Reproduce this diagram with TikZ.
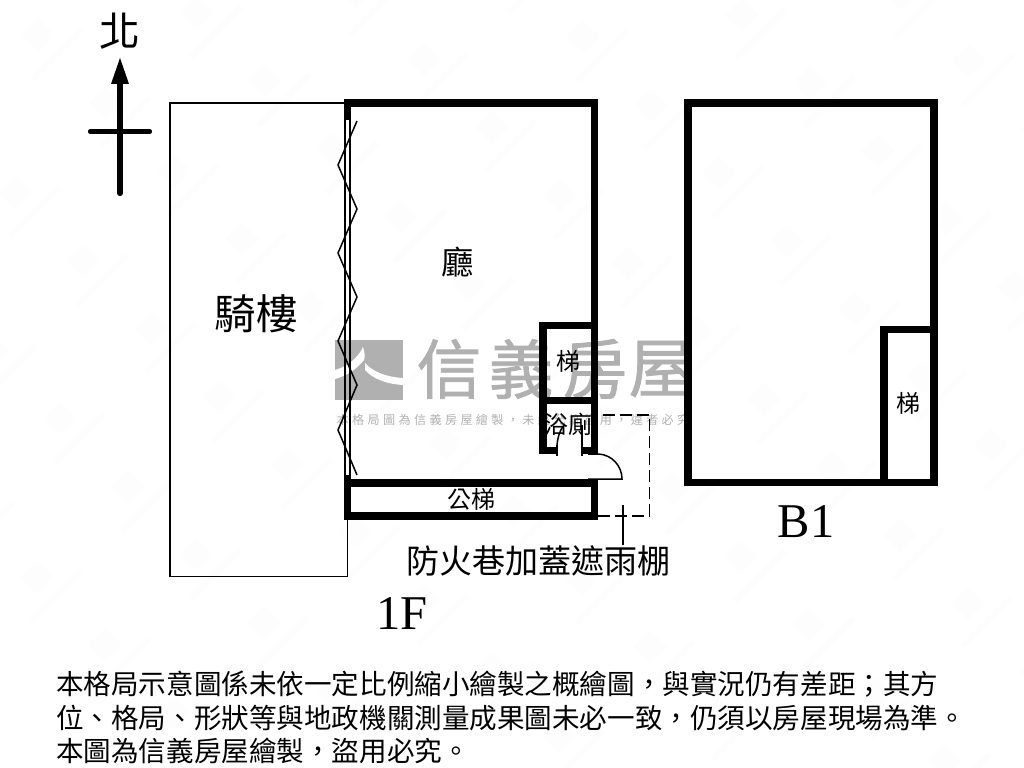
\documentclass[tikz,border=0pt]{standalone}
\usepackage{fontspec}
\usepackage{xcolor}
\setmainfont{Noto Sans CJK TC}
\newfontfamily\latinfont{Liberation Serif}
\newfontfamily\markfont[LetterSpace=28]{Noto Sans CJK TC}
\newfontfamily\bigmarkfont[FakeBold=1.2]{Noto Sans CJK TC}
\usetikzlibrary{arrows.meta, positioning}
\definecolor{markgray}{HTML}{B0B0B0}
\definecolor{tilefaint}{HTML}{FDFDFD}
\definecolor{wallblack}{HTML}{000000}

\begin{document}
\begin{tikzpicture}[
  x=0.025cm, y=-0.025cm,
  wall/.style={draw=wallblack, line width=7.5*0.025cm, line cap=butt, line join=miter},
  thin line/.style={draw=wallblack, line width=1.5*0.025cm},
  dash line/.style={draw=wallblack, line width=1.5*0.025cm, dash pattern=on 0.3cm off 0.125cm},
  north line/.style={draw=wallblack, line width=5.2*0.025cm, line cap=round},
  roomlabel/.style={inner sep=0pt, font=\fontsize{17}{17}\selectfont},
  biglabel/.style={inner sep=0pt, font=\fontsize{29.5}{30}\selectfont},
  floorlabel/.style={inner sep=0pt, font=\fontsize{34.5}{35}\selectfont\latinfont},
  noteline/.style={inner sep=0pt, anchor=west, font=\fontsize{19.6}{20}\selectfont}
]
  \useasboundingbox (0,0) rectangle (1024,768);

  % Faint tiles
  \foreach \i in {-3,...,11}
    \foreach \j in {-3,...,7} {
      \pgfmathsetmacro{\cx}{38+68*\i+159*\j}
      \pgfmathsetmacro{\cy}{35+68*\i-22*\j}
      \fill[tilefaint] (\cx-17,\cy) -- (\cx,\cy-17) -- (\cx+17,\cy) -- (\cx,\cy+17) -- cycle;
      \fill[tilefaint] (\cx-8,\cy+42) -- (\cx+42,\cy-8) -- (\cx+46,\cy-4) -- (\cx-4,\cy+46) -- cycle;
    }

  % Watermark
  \fill[markgray] (335,340) rectangle (403,400);
  \fill[white] (335,370) .. controls (348,366) and (358,358) .. (363,347)
    .. controls (365,353) and (365,357) .. (364,360)
    .. controls (356,370) and (346,376) .. (335,379) -- cycle;
  \fill[white] (365,363) .. controls (372,371) and (385,377) .. (403,378) -- (403,385)
    .. controls (385,384) and (372,378) .. (365,370) -- cycle;
  \foreach \ch/\px in {信/449, 義/521, 房/595, 屋/661}
    \node[inner sep=0pt, text=markgray, font=\fontsize{46}{46}\bigmarkfont] (mark\px) at (\px,369) {\ch};
  \node[inner sep=0pt, text=markgray, font=\fontsize{8.6}{9}\markfont] (marknote) at (513,420) {本格局圖為信義房屋繪製，未經允許盜用，違者必究};

  % North arrow
  \node[inner sep=0pt, font=\fontsize{29}{29}\selectfont] (north) at (120,31) {北};
  \coordinate (ntip) at (120,58);
  \coordinate (ntail) at (120,193.5);
  \coordinate (nleft) at (90.5,131.5);
  \coordinate (nright) at (149.5,131.5);
  \draw[north line] (ntail) -- (120,80);
  \fill[wallblack] (ntip) -- (129,84) -- (111,84) -- cycle;
  \draw[north line] (nleft) -- (nright);

  % Arcade
  \draw[thin line] (347,103) -- (170,103) -- (170,576.5) -- (347.5,576.5) -- (347.5,520);

  % 1F
  \draw[wall] (347.5,120) -- (347.5,103) -- (594.5,103) -- (594.5,454);
  \draw[wall] (594.5,325.5) -- (543,325.5) -- (543,450.5) -- (557,450.5);
  \draw[wall] (543,400.5) -- (594.5,400.5);
  \draw[wall] (582,450.5) -- (594.5,450.5);
  \draw[wall] (594.5,479) -- (594.5,516) -- (347.5,516) -- (347.5,475);
  \draw[wall] (347.5,483) -- (594.5,483);
  \draw[thin line] (345,120) -- (345,475);
  \draw[thin line] (350,120) -- (350,475);
  \draw[thin line] (357,121) -- (338,165) -- (357,209) -- (338,253) -- (357,297)
    -- (338,341) -- (357,385) -- (338,430) -- (357,475);

  % Doors
  \draw[thin line] (557,445) -- (557,456);
  \draw[thin line] (582,445) -- (582,456);
  \draw[thin line] (557,445) .. controls (558,436) and (560,430) .. (564,425);
  \draw[thin line] (582,445) -- (582,425);
  \draw[thin line] (588,454) -- (599,454) .. controls (612,455) and (622,466) .. (622,479) -- (588,479);

  % Dashed roof
  \draw[dash line] (598,516) -- (649.5,516) -- (649.5,415) -- (598,415);
  \coordinate (roofmark) at (623,505);
  \draw[thin line] (roofmark) -- (623,545);

  % B1
  \draw[wall] (688,103) rectangle (934,482.5);
  \draw[wall] (884,482.5) -- (884,329.5) -- (934,329.5);

  % Labels
  \node[biglabel] (arcade) at (256,314) {騎樓};
  \node[inner sep=0pt, font=\fontsize{23}{23}\selectfont] (hall) at (458,262) {廳};
  \node[roomlabel] (stairone) at (568,361) {梯};
  \node[roomlabel] (bath) at (568,424) {浴廁};
  \node[roomlabel] (pubstair) at (471,499) {公梯};
  \node[roomlabel] (stairtwo) at (908,403) {梯};
  \node[inner sep=0pt, font=\fontsize{23.5}{24}\selectfont] (roof) at (538.5,561) {防火巷加蓋遮雨棚};
  \node[floorlabel] (one) at (402,613) {1F};
  \node[floorlabel] (two) at (806,522) {B1};

  % Note
  \node[noteline] (noteone) at (56,684) {本格局示意圖係未依一定比例縮小繪製之概繪圖，與實況仍有差距；其方};
  \node[noteline] (notetwo) at (56,718) {位、格局、形狀等與地政機關測量成果圖未必一致，仍須以房屋現場為準。};
  \node[noteline] (notethree) at (56,751) {本圖為信義房屋繪製，盜用必究。};
\end{tikzpicture}
\end{document}
